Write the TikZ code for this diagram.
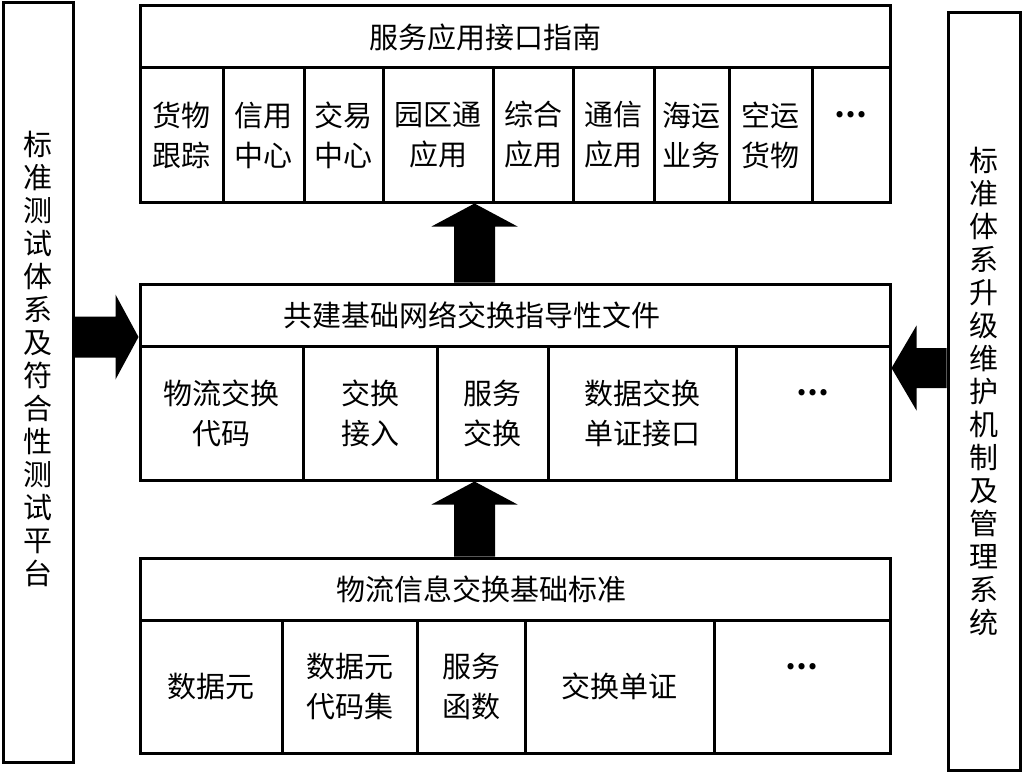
\documentclass[tikz,border=0pt]{standalone}
\usepackage{fontspec}
\newfontfamily\cjk{Noto Sans CJK SC}
\usetikzlibrary{calc}

% fat block arrow: from, to, shaft half width, head half width, head length
\newcommand{\fatarrow}[5]{%
  \fill let \p1=(#1), \p2=(#2), \n1={atan2(\y2-\y1,\x2-\x1)}, \n2={veclen(\x2-\x1,\y2-\y1)} in
    [shift={(\p1)}, rotate=\n1]
    (0,-#3) -- (\n2-#5,-#3) -- (\n2-#5,-#4) -- (\n2,0) -- (\n2-#5,#4) -- (\n2-#5,#3) -- (0,#3) -- cycle;}
\newcommand{\more}{\textbf{…}\\\phantom{…}}

\begin{document}
\begin{tikzpicture}[x=1pt,y=-1pt,
  box/.style={draw,line width=3pt,inner sep=0pt,align=center,
    font=\cjk\fontsize{29}{40}\selectfont},
  side text/.style={inner sep=0pt,align=center}]
  \useasboundingbox (0,0) rectangle (1022,773);

  % top block
  \node[box,minimum width=750,minimum height=62] (thead) at (515,37) {服务应用接口指南\hspace*{60pt}};
  \foreach \l/\r/\txt [count=\i] in {140/223/{货物\\跟踪},223/304/{信用\\中心},304/383/{交易\\中心},
      383/493/{园区通\\应用},493/573/{综合\\应用},573/654/{通信\\应用},654/729/{海运\\业务},
      729/812/{空运\\货物},812/890/{\more}}
    \node[box,minimum width={\r-\l},minimum height=134] (t\i) at ({(\l+\r)/2},135) {\txt};

  % middle block
  \node[box,minimum width=750,minimum height=62] (mhead) at (515,315) {共建基础网络交换指导性文件\hspace*{86pt}};
  \foreach \l/\r/\txt [count=\i] in {140/303/{物流交换\\代码},303/437/{交换\\接入},437/548/{服务\\交换},
      548/736/{数据交换\\单证接口},736/890/{\more}}
    \node[box,minimum width={\r-\l},minimum height=134] (m\i) at ({(\l+\r)/2},413) {\txt};

  % bottom block
  \node[box,minimum width=750,minimum height=62] (bhead) at (515,589) {物流信息交换基础标准\hspace*{68pt}};
  \foreach \l/\r/\txt [count=\i] in {140/282/{数据元},282/417/{数据元\\代码集},417/525/{服务\\函数},
      525/714/{交换单证},714/890/{\more}}
    \node[box,minimum width={\r-\l},minimum height=133] (b\i) at ({(\l+\r)/2},686.5) {\txt};

  % side boxes
  \node[box,minimum width=70,minimum height=759] (lbox) at (38,382.5) {};
  \node[side text,font=\cjk\fontsize{29}{33}\selectfont] (ltitle) at (38,358.5)
    {标\\准\\测\\试\\体\\系\\及\\符\\合\\性\\测\\试\\平\\台};
  \node[box,minimum width=72,minimum height=757,font=\cjk\fontsize{29}{33}\selectfont] (rbox) at (984,391.5)
    {标\\准\\体\\系\\升\\级\\维\\护\\机\\制\\及\\管\\理\\系\\统};

  % arrows
  \coordinate (ax) at (474.5,0);
  \coordinate (ly) at (0,337);
  \coordinate (ry) at (0,368);
  \fatarrow{mhead.north -| ax}{t1.south -| ax}{20.5}{43}{23}
  \fatarrow{bhead.north -| ax}{m1.south -| ax}{20.5}{43}{23}
  \fatarrow{lbox.east |- ly}{mhead.west |- ly}{20.5}{42.5}{23}
  \fatarrow{rbox.west |- ry}{m5.east |- ry}{20}{42.5}{25}
\end{tikzpicture}
\end{document}
